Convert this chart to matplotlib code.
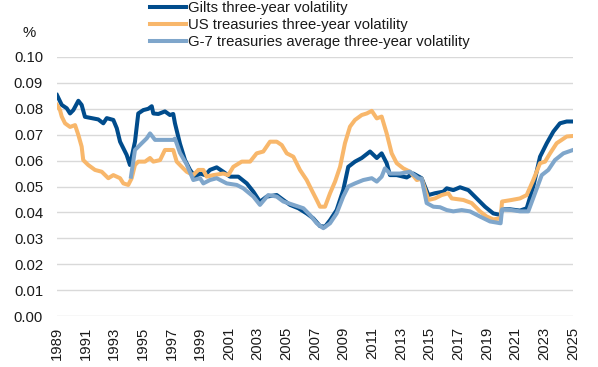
import numpy as np
import matplotlib
matplotlib.use("Agg")
import matplotlib.pyplot as plt

plt.rcParams['font.family'] = ['Liberation Sans', 'DejaVu Sans']

# Gilts three-year volatility
gilts_years = [1989.00, 1989.33, 1989.68, 1989.91, 1990.14, 1990.49, 1990.72, 1990.95,
               1991.88, 1992.23, 1992.47, 1992.93, 1993.17, 1993.40, 1993.86, 1994.09,
               1994.44, 1994.67, 1995.02, 1995.37, 1995.61, 1995.72, 1996.07, 1996.53,
               1996.88, 1997.11, 1997.23, 1997.58, 1997.93, 1998.28, 1998.63, 1998.98,
               1999.33, 1999.67, 2000.14, 2000.60, 2001.07, 2001.65, 2002.24, 2002.70,
               2003.16, 2003.63, 2004.33, 2004.79, 2005.26, 2005.84, 2006.42, 2006.88,
               2007.35, 2007.70, 2008.05, 2008.51, 2008.97, 2009.32, 2009.79, 2010.26,
               2010.84, 2011.31, 2011.65, 2012.00, 2012.23, 2012.70, 2013.40, 2013.86,
               2014.44, 2014.91, 2015.37, 2015.95, 2016.19, 2016.65, 2017.12, 2017.70,
               2018.28, 2018.86, 2019.44, 2019.95, 2020.05, 2020.61, 2021.30, 2021.77,
               2022.23, 2022.70, 2023.17, 2023.63, 2024.09, 2024.56, 2025.00]
gilts_vals = [0.0853, 0.0815, 0.0802, 0.0782, 0.0795, 0.0831, 0.0815, 0.0769,
              0.0759, 0.0744, 0.0764, 0.0757, 0.0725, 0.0673, 0.0622, 0.0583,
              0.0673, 0.0782, 0.0795, 0.0800, 0.0810, 0.0782, 0.0780, 0.0790,
              0.0776, 0.0780, 0.0744, 0.0665, 0.0602, 0.0564, 0.0538, 0.0550,
              0.0544, 0.0564, 0.0574, 0.0557, 0.0538, 0.0538, 0.0512, 0.0480,
              0.0441, 0.0461, 0.0467, 0.0448, 0.0429, 0.0416, 0.0396, 0.0377,
              0.0347, 0.0345, 0.0370, 0.0409, 0.0486, 0.0576, 0.0596, 0.0610,
              0.0635, 0.0610, 0.0628, 0.0590, 0.0544, 0.0544, 0.0535, 0.0550,
              0.0532, 0.0467, 0.0474, 0.0480, 0.0493, 0.0486, 0.0497, 0.0486,
              0.0454, 0.0422, 0.0396, 0.0390, 0.0412, 0.0412, 0.0407, 0.0416,
              0.0500, 0.0615, 0.0667, 0.0712, 0.0744, 0.0751, 0.0751]

# US treasuries three-year volatility
us_years = [1989.00, 1989.21, 1989.33, 1989.56, 1989.91, 1990.26, 1990.49, 1990.72,
            1990.83, 1991.18, 1991.65, 1992.12, 1992.58, 1992.93, 1993.40, 1993.63,
            1993.97, 1994.21, 1994.44, 1994.67, 1995.14, 1995.49, 1995.72, 1996.19,
            1996.53, 1997.11, 1997.35, 1997.81, 1998.05, 1998.51, 1998.86, 1999.21,
            1999.44, 1999.91, 2000.60, 2000.95, 2001.30, 2001.89, 2002.47, 2002.93,
            2003.39, 2003.86, 2004.33, 2004.68, 2005.03, 2005.49, 2005.95, 2006.42,
            2006.77, 2007.12, 2007.35, 2007.70, 2008.05, 2008.40, 2008.75, 2009.09,
            2009.44, 2009.79, 2010.26, 2010.61, 2010.96, 2011.31, 2011.65, 2012.00,
            2012.35, 2012.70, 2013.16, 2013.63, 2014.10, 2014.44, 2014.91, 2015.37,
            2015.84, 2016.30, 2016.54, 2017.35, 2017.93, 2018.51, 2018.98, 2019.44,
            2019.95, 2020.05, 2020.72, 2021.30, 2021.77, 2022.23, 2022.70, 2023.05,
            2023.40, 2023.86, 2024.56, 2025.00]
us_vals = [0.0815, 0.0795, 0.0770, 0.0744, 0.0730, 0.0737, 0.0699, 0.0654,
           0.0602, 0.0583, 0.0564, 0.0557, 0.0532, 0.0544, 0.0532, 0.0512,
           0.0506, 0.0532, 0.0583, 0.0596, 0.0596, 0.0610, 0.0596, 0.0602,
           0.0641, 0.0641, 0.0596, 0.0570, 0.0557, 0.0544, 0.0564, 0.0564,
           0.0538, 0.0544, 0.0550, 0.0544, 0.0576, 0.0596, 0.0596, 0.0628,
           0.0635, 0.0673, 0.0673, 0.0660, 0.0628, 0.0615, 0.0564, 0.0525,
           0.0486, 0.0448, 0.0422, 0.0422, 0.0474, 0.0519, 0.0576, 0.0667,
           0.0731, 0.0757, 0.0776, 0.0782, 0.0792, 0.0763, 0.0770, 0.0705,
           0.0628, 0.0590, 0.0570, 0.0557, 0.0525, 0.0530, 0.0448, 0.0454,
           0.0467, 0.0474, 0.0454, 0.0448, 0.0436, 0.0404, 0.0384, 0.0373,
           0.0377, 0.0442, 0.0448, 0.0454, 0.0467, 0.0525, 0.0590, 0.0596,
           0.0628, 0.0667, 0.0693, 0.0695]

# G-7 treasuries average three-year volatility
g7_years = [1994.16, 1994.44, 1994.91, 1995.26, 1995.49, 1995.84, 1996.30, 1996.77,
            1997.11, 1997.23, 1997.58, 1998.05, 1998.51, 1998.98, 1999.21, 1999.67,
            2000.14, 2000.84, 2001.54, 2002.00, 2002.70, 2003.16, 2003.74, 2004.33,
            2004.79, 2005.49, 2006.19, 2006.65, 2007.12, 2007.58, 2008.05, 2008.51,
            2008.97, 2009.32, 2009.79, 2010.37, 2010.96, 2011.31, 2011.65, 2011.88,
            2012.23, 2012.93, 2013.63, 2014.21, 2014.44, 2014.79, 2015.26, 2015.72,
            2016.19, 2016.65, 2017.23, 2017.81, 2018.51, 2019.21, 2019.95, 2020.05,
            2020.72, 2021.30, 2021.88, 2022.35, 2022.82, 2023.28, 2023.74, 2024.33,
            2025.00]
g7_vals = [0.0538, 0.0641, 0.0667, 0.0686, 0.0705, 0.0680, 0.0680, 0.0680,
           0.0680, 0.0685, 0.0630, 0.0585, 0.0525, 0.0532, 0.0512, 0.0525,
           0.0532, 0.0512, 0.0506, 0.0493, 0.0461, 0.0429, 0.0467, 0.0461,
           0.0442, 0.0429, 0.0416, 0.0390, 0.0358, 0.0339, 0.0358, 0.0396,
           0.0461, 0.0500, 0.0512, 0.0525, 0.0532, 0.0519, 0.0538, 0.0570,
           0.0550, 0.0550, 0.0557, 0.0532, 0.0530, 0.0436, 0.0422, 0.0420,
           0.0409, 0.0404, 0.0409, 0.0404, 0.0384, 0.0365, 0.0358, 0.0412,
           0.0409, 0.0404, 0.0404, 0.0474, 0.0544, 0.0564, 0.0602, 0.0628,
           0.0641]

labels = ["Gilts three-year volatility",
          "US treasuries three-year volatility",
          "G-7 treasuries average three-year volatility"]
colors = ["#004C8C", "#F8B76B", "#7FA6CB"]

yticks = np.arange(0, 0.101, 0.01)
xticks = np.arange(1989, 2026, 2)

fig = plt.figure(figsize=(5.98, 3.67), dpi=100)
ax = fig.add_axes([57/598, 1-316/367, 516/598, 259/367])

ax.plot(gilts_years, gilts_vals, color=colors[0], lw=2.9, label=labels[0], solid_joinstyle='round')
ax.plot(us_years, us_vals, color=colors[1], lw=2.9, label=labels[1], solid_joinstyle='round')
ax.plot(g7_years, g7_vals, color=colors[2], lw=2.9, label=labels[2], solid_joinstyle='round')

ax.set_xlim(1989, 2025)
ax.set_ylim(0, 0.1)
ax.set_yticks(yticks)
ax.set_yticklabels(["%.2f" % v for v in yticks])
ax.set_xticks(xticks)
ax.set_xticklabels([str(y) for y in xticks], rotation=90)
ax.tick_params(axis='both', length=0, labelsize=10.7, colors='#1a1a1a')
ax.tick_params(axis='y', pad=10)
ax.tick_params(axis='x', pad=8)
ax.grid(axis='y', color='#D9D9D9', lw=1)
ax.set_axisbelow(True)
for s in ax.spines.values():
    s.set_visible(False)

fig.text(29/598, 1-33/367, "%", fontsize=10.7, ha='center', va='center', color='#1a1a1a')

fig.legend(loc='upper left', bbox_to_anchor=(150/598, 0.997), frameon=False,
           fontsize=10.7, handlelength=2.4, handletextpad=0.15, labelspacing=0.2,
           borderpad=0, borderaxespad=0, labelcolor='#1a1a1a')

fig.savefig("out.png", dpi=100)
